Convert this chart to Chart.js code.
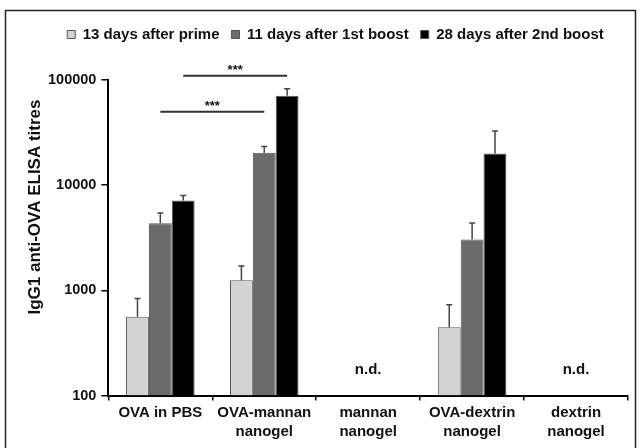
<!DOCTYPE html>
<html>
<head>
<meta charset="utf-8">
<script src="https://cdn.jsdelivr.net/npm/chart.js@4"></script>
<style>
  body { margin: 0; background: #fff; }
</style>
</head>
<body>
<canvas id="myChart" width="640" height="448"></canvas>
<script>
// groups on the x axis
const groups = ["OVA in PBS", ["OVA-mannan", "nanogel"], ["mannan", "nanogel"], ["OVA-dextrin", "nanogel"], ["dextrin", "nanogel"]];

// titres (null = not detected)
const prime = [560, 1245, null, 445, null];
const boost1 = [4350, 20300, null, 3040, null];
const boost2 = [7140, 70900, null, 20000, null];

// upper error (SD) for each bar
const primeErr = [275, 455, null, 285, null];
const boost1Err = [1100, 3000, null, 1330, null];
const boost2Err = [840, 11700, null, 12700, null];

const yTicks = [100, 1000, 10000, 100000];

// n.d. markers: group index + height on the y scale
const ndGroups = [2, 4];
const ndAt = 175;

// significance lines: from/to group, dataset, height on the y scale
const sigFrom = [0, 0];
const sigTo = [1, 1];
const sigSet = [1, 2];
const sigAt = [50000, 110000];
const sigText = ["***", "***"];

const errs = [primeErr, boost1Err, boost2Err];
const FONT = '"Liberation Sans", Arial, sans-serif';
Chart.defaults.font.family = FONT;
Chart.defaults.color = '#111';

// makes room between legend and plot
const legendGap = {
  id: 'legendGap',
  beforeInit(chart) {
    const fit = chart.legend.fit;
    chart.legend.fit = function () {
      fit.bind(chart.legend)();
      this.height += 28;
    };
  }
};

const extras = {
  id: 'extras',
  afterDatasetsDraw(chart) {
    const ctx = chart.ctx;
    const y = chart.scales.y;
    const x = chart.scales.x;
    ctx.save();

    // error bars (upper only)
    ctx.strokeStyle = '#444';
    ctx.lineWidth = 1.5;
    chart.data.datasets.forEach(function (ds, d) {
      const meta = chart.getDatasetMeta(d);
      meta.data.forEach(function (bar, i) {
        const v = ds.data[i];
        const e = errs[d][i];
        if (v == null || e == null) return;
        const top = y.getPixelForValue(v + e);
        ctx.beginPath();
        ctx.moveTo(bar.x, bar.y);
        ctx.lineTo(bar.x, top);
        ctx.moveTo(bar.x - 3, top);
        ctx.lineTo(bar.x + 3, top);
        ctx.stroke();
      });
    });

    // significance lines
    ctx.strokeStyle = '#333';
    ctx.lineWidth = 2;
    ctx.fillStyle = '#111';
    ctx.font = 'bold 13px ' + FONT;
    ctx.textAlign = 'center';
    ctx.textBaseline = 'alphabetic';
    for (let i = 0; i < sigAt.length; i++) {
      const meta = chart.getDatasetMeta(sigSet[i]);
      const x1 = meta.data[sigFrom[i]].x;
      const x2 = meta.data[sigTo[i]].x;
      const ly = y.getPixelForValue(sigAt[i]);
      ctx.beginPath();
      ctx.moveTo(x1, ly);
      ctx.lineTo(x2, ly);
      ctx.stroke();
      ctx.fillText(sigText[i], (x1 + x2) / 2, ly - 2);
    }

    // n.d.
    ctx.font = 'bold 15px ' + FONT;
    ctx.textBaseline = 'middle';
    ndGroups.forEach(function (g) {
      ctx.fillText('n.d.', x.getPixelForValue(g), y.getPixelForValue(ndAt));
    });

    // y axis title
    ctx.font = 'bold 17px ' + FONT;
    ctx.translate(35, 207);
    ctx.rotate(-Math.PI / 2);
    ctx.fillText('IgG1 anti-OVA ELISA titres', 0, 0);
    ctx.restore();

    // outer frame
    ctx.save();
    ctx.strokeStyle = '#222';
    ctx.lineWidth = 1.5;
    ctx.strokeRect(5.5, 10.5, 630, 480);
    ctx.restore();
  }
};

let myChart = document.getElementById('myChart').getContext('2d');
let titreChart = new Chart(myChart, {
  type: 'bar',
  data: {
    labels: groups,
    datasets: [{
      label: '13 days after prime',
      data: prime,
      backgroundColor: '#d3d3d3',
      borderColor: '#555',
      borderWidth: 1
    }, {
      label: '11 days after 1st boost',
      data: boost1,
      backgroundColor: '#6b6b6b',
      borderColor: '#555',
      borderWidth: 1
    }, {
      label: '28 days after 2nd boost',
      data: boost2,
      backgroundColor: '#000',
      borderColor: '#555',
      borderWidth: 1
    }]
  },
  options: {
    responsive: false,
    animation: false,
    layout: {
      padding: { top: 15, left: 43, right: 12, bottom: 4 }
    },
    datasets: {
      bar: { categoryPercentage: 0.66, barPercentage: 1.0 }
    },
    plugins: {
      legend: {
        position: 'top',
        labels: {
          boxWidth: 8,
          boxHeight: 8,
          padding: 12,
          color: '#111',
          font: { size: 15, weight: 'bold' }
        }
      },
      tooltip: { enabled: false }
    },
    scales: {
      x: {
        grid: {
          offset: true,
          drawOnChartArea: false,
          drawTicks: true,
          tickLength: 5,
          color: '#000',
          lineWidth: 1.5
        },
        border: { display: true, color: '#000', width: 2 },
        ticks: {
          padding: 3,
          color: '#111',
          maxRotation: 0,
          font: { size: 15, weight: 'bold', lineHeight: 1.25 }
        }
      },
      y: {
        type: 'logarithmic',
        min: 100,
        max: 100000,
        afterBuildTicks: function (scale) {
          scale.ticks = yTicks.map(function (v) { return { value: v }; });
        },
        grid: {
          drawOnChartArea: false,
          drawTicks: true,
          tickLength: 7,
          color: '#000',
          lineWidth: 1.5
        },
        border: { display: true, color: '#000', width: 2 },
        ticks: {
          padding: 5,
          color: '#111',
          font: { size: 14.5, weight: 'bold' },
          callback: function (value) { return String(value); }
        }
      }
    }
  },
  plugins: [legendGap, extras]
});
</script>
</body>
</html>
